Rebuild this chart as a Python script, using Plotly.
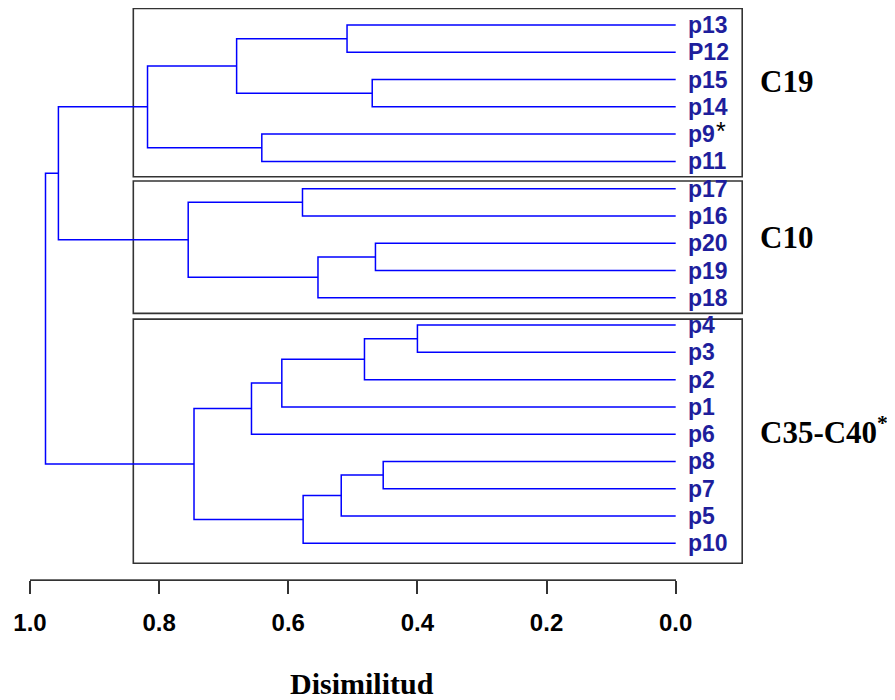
import plotly.graph_objects as go

# ---------------- data ----------------
leaf_labels = ["p13", "P12", "p15", "p14", "p9", "p11",
               "p17", "p16", "p20", "p19", "p18",
               "p4", "p3", "p2", "p1", "p6", "p8", "p7", "p5", "p10"]
# merges: children are leaf names or indices of earlier merges
merge_left = ["p13", "p15", 0, "p9", 2, "p17", "p20", 6, 5, 4,
              "p4", 10, 11, 12, "p8", 14, 15, 13, 9]
merge_right = ["P12", "p14", 1, "p11", 3, "p16", "p19", "p18", 7, 8,
               "p3", "p2", "p1", "p6", "p7", "p5", "p10", 16, 17]
merge_height = [0.509, 0.470, 0.680, 0.641, 0.818, 0.578, 0.465, 0.554, 0.755, 0.956,
                0.400, 0.482, 0.610, 0.657, 0.453, 0.518, 0.577, 0.746, 0.976]

cluster_names = ["C19", "C10", "C35-C40"]
cluster_first = ["p13", "p17", "p4"]
cluster_last = ["p11", "p18", "p10"]
cluster_mark = [False, False, True]
star_leaves = ["p9"]

tick_values = [1.0, 0.8, 0.6, 0.4, 0.2, 0.0]
tick_labels = ["1.0", "0.8", "0.6", "0.4", "0.2", "0.0"]
x_title = "Disimilitud"

# ---------------- layout constants ----------------
W, H = 895, 700
OFF = 8                                  # page body offset
px_one, px_zero = 30.0 - OFF, 675.7 - OFF   # figure pixel x of 1.0 and 0.0
scale = px_zero - px_one
leaf_top_px, leaf_step_px = 25.0 - OFF, 27.28
axis_px = 579.3 - OFF

x2_range = [1 + px_one / scale, 1 - (W - px_one) / scale]
y_range = [(axis_px - leaf_top_px) / leaf_step_px, -leaf_top_px / leaf_step_px]

LINE_BLUE = "#0000FF"
LABEL_BLUE = "#1E1E9C"
BOX_COL = "#333333"
LEAF_FONT = 23

# ---------------- tree geometry ----------------
leaf_pos = {n: i for i, n in enumerate(leaf_labels)}
node_y, node_h = [], []


def child(c):
    if isinstance(c, str):
        return leaf_pos[c], 0.0
    return node_y[c], node_h[c]


xs, ys = [], []
for l, r, h in zip(merge_left, merge_right, merge_height):
    yl, hl = child(l)
    yr, hr = child(r)
    xs += [hl, h, h, hr, None]
    ys += [yl, yl, yr, yr, None]
    node_y.append((yl + yr) / 2)
    node_h.append(h)

fig = go.Figure()
fig.add_trace(go.Scatter(x=xs, y=ys, mode="lines", xaxis="x2", yaxis="y",
                         line=dict(color=LINE_BLUE, width=1.5),
                         hoverinfo="skip", showlegend=False))
# invisible trace on the visible axis
fig.add_trace(go.Scatter(x=[1.0, 0.0], y=[None, None], mode="markers",
                         xaxis="x", yaxis="y", showlegend=False, hoverinfo="skip"))

# leaf labels
for name in leaf_labels:
    fig.add_annotation(x=0.0, y=leaf_pos[name], xref="x2", yref="y",
                       text="<b>%s</b>" % name,
                       showarrow=False, xanchor="left", yanchor="middle", xshift=10,
                       font=dict(family="Liberation Sans, Arial", size=LEAF_FONT, color=LABEL_BLUE))
    if name in star_leaves:
        fig.add_annotation(x=0.0, y=leaf_pos[name], xref="x2", yref="y", text="*",
                           showarrow=False, xanchor="left", yanchor="middle",
                           xshift=10 + 1.2 * LEAF_FONT + 1, yshift=3,
                           font=dict(family="Liberation Sans, Arial", size=25, color="black"))

# cluster boxes and labels
box_left, box_right = 0.840, -0.103
box_top_pad = [0.61, 0.28, 0.22]
box_bot_pad = [0.56, 0.57, 0.73]
label_dy = [-0.42, -0.22, -0.13]
label_x = -0.128
for i, name in enumerate(cluster_names):
    a, b = leaf_pos[cluster_first[i]], leaf_pos[cluster_last[i]]
    fig.add_shape(type="rect", xref="x2", yref="y", x0=box_left, x1=box_right,
                  y0=a - box_top_pad[i], y1=b + box_bot_pad[i],
                  line=dict(color=BOX_COL, width=1.6), layer="below")
    txt = "<b>%s</b>" % name
    if cluster_mark[i]:
        txt += "<b><sup>*</sup></b>"
    fig.add_annotation(x=label_x, y=(a + b) / 2 + label_dy[i], xref="x2", yref="y",
                       text=txt, showarrow=False, xanchor="left", yanchor="middle",
                       font=dict(family="Liberation Serif, Times New Roman", size=31, color="black"))

fig.add_annotation(x=(362 - OFF) / W, y=(H - (683 - OFF)) / H, xref="paper", yref="paper",
                   text="<b>%s</b>" % x_title, showarrow=False,
                   xanchor="center", yanchor="middle",
                   font=dict(family="Liberation Serif, Times New Roman", size=30, color="black"))

fig.update_layout(
    width=W, height=H, autosize=False,
    margin=dict(l=0, r=0, t=0, b=0, pad=0),
    paper_bgcolor="white", plot_bgcolor="white",
    showlegend=False,
    xaxis=dict(domain=[px_one / W, px_zero / W], range=[1.0, 0.0], anchor="y",
               automargin=False,
               tickvals=tick_values, ticktext=tick_labels,
               ticks="outside", ticklen=13, tickwidth=1.5, tickcolor=BOX_COL,
               showline=True, linecolor=BOX_COL, linewidth=1.5,
               showgrid=False, zeroline=False, ticklabelstandoff=8,
               tickfont=dict(family="Liberation Sans, Arial", size=24, color="black", weight="bold")),
    xaxis2=dict(domain=[0, 1], range=x2_range, anchor="y", visible=False,
                automargin=False, showgrid=False, zeroline=False),
    yaxis=dict(domain=[(H - axis_px) / H, 1], range=y_range, visible=False,
               automargin=False, showgrid=False, zeroline=False),
)

fig.write_html("out.html")
